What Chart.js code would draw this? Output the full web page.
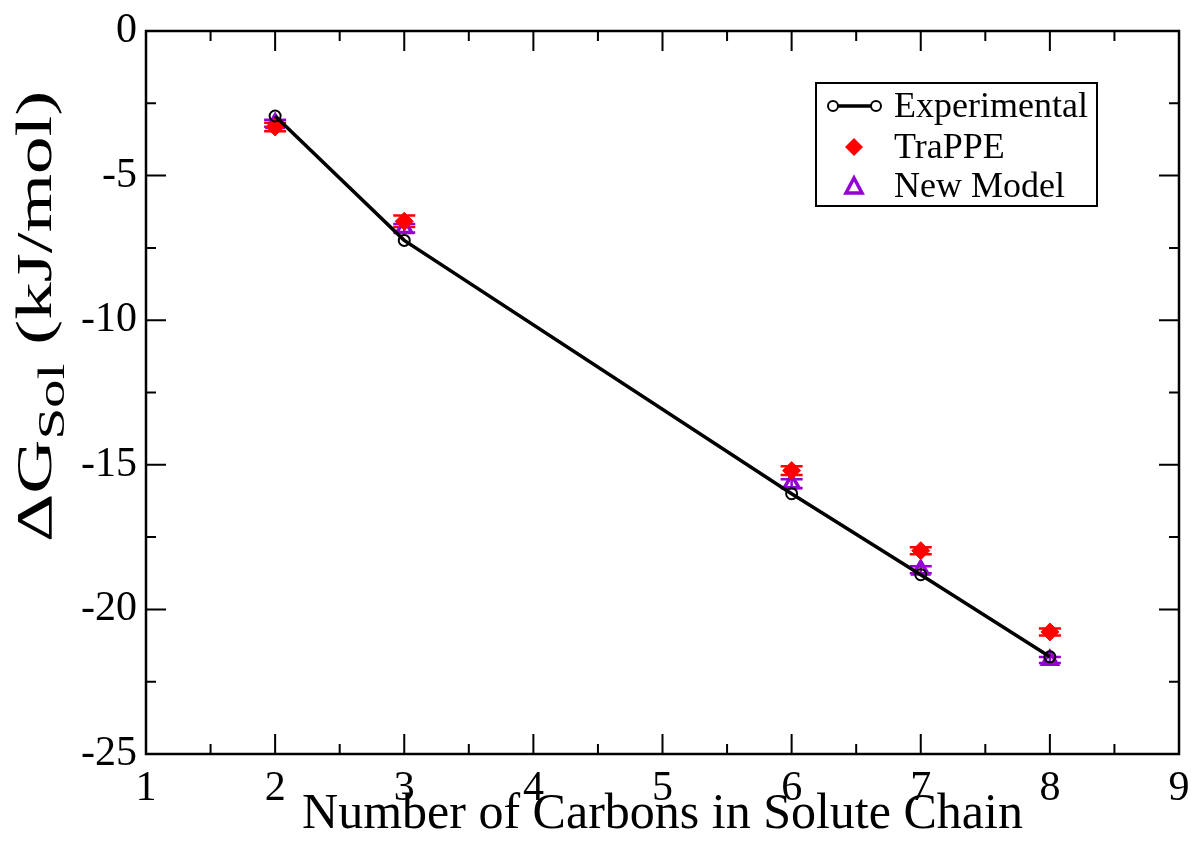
<!DOCTYPE html>
<html><head><meta charset="utf-8">
<script src="https://cdn.jsdelivr.net/npm/chart.js@4.4.1/dist/chart.umd.min.js"></script>
<style>html,body{margin:0;padding:0;background:#fff;}#wrap{width:1192px;height:845px;}</style>
</head><body><div id="wrap"><canvas id="c" width="1192" height="845"></canvas></div>
<script>
const carbons = [2, 3, 6, 7, 8];
const experimental = [-2.94, -7.24, -16.0, -18.8, -21.64];
const trappe = [-3.32, -6.58, -15.2, -17.97, -20.78];
const trappeErr = [0.15, 0.2, 0.15, 0.12, 0.12];
const newModel = [-3.19, -6.82, -15.65, -18.63, -21.75];
const newModelErr = [0.12, 0.15, 0.15, 0.12, 0.1];
const xTicks = [1, 2, 3, 4, 5, 6, 7, 8, 9];
const yTicks = [0, -5, -10, -15, -20, -25];
const seriesNames = ['Experimental', 'TraPPE', 'New Model'];

const FONT = '"Liberation Serif", "DejaVu Serif", serif';
const PURPLE = '#9400d3';

const framePlugin = {
  id: 'frame',
  beforeDatasetsDraw(chart) {
    const ctx = chart.ctx;
    const xs = chart.scales.x, ys = chart.scales.y;
    const drawErr = (vals, errs, color) => {
      ctx.save(); ctx.strokeStyle = color; ctx.lineWidth = 2.5;
      vals.forEach((v, i) => {
        const px = xs.getPixelForValue(carbons[i]);
        const t = ys.getPixelForValue(v + errs[i]), b = ys.getPixelForValue(v - errs[i]);
        ctx.beginPath();
        ctx.moveTo(px, t); ctx.lineTo(px, b);
        ctx.moveTo(px - 11, t); ctx.lineTo(px + 11, t);
        ctx.moveTo(px - 11, b); ctx.lineTo(px + 11, b);
        ctx.stroke();
      });
      ctx.restore();
    };
    drawErr(trappe, trappeErr, '#ff0000');
    drawErr(newModel, newModelErr, PURPLE);
  },
  afterDatasetsDraw(chart) {
    const ctx = chart.ctx, ca = chart.chartArea;
    const xs = chart.scales.x, ys = chart.scales.y;
    ctx.save();
    ctx.strokeStyle = '#000'; ctx.lineWidth = 2.5;
    ctx.strokeRect(ca.left, ca.top, ca.right - ca.left, ca.bottom - ca.top);
    ctx.lineWidth = 2;
    ctx.beginPath();
    for (let i = 0; i < xTicks.length; i++) {
      const v = xTicks[i];
      const p = xs.getPixelForValue(v);
      if (i > 0 && i < xTicks.length - 1) {
        ctx.moveTo(p, ca.bottom); ctx.lineTo(p, ca.bottom - 20);
        ctx.moveTo(p, ca.top); ctx.lineTo(p, ca.top + 20);
      }
      if (i < xTicks.length - 1) {
        const m = xs.getPixelForValue((v + xTicks[i + 1]) / 2);
        ctx.moveTo(m, ca.bottom); ctx.lineTo(m, ca.bottom - 10);
        ctx.moveTo(m, ca.top); ctx.lineTo(m, ca.top + 10);
      }
    }
    for (let i = 0; i < yTicks.length; i++) {
      const v = yTicks[i];
      const p = ys.getPixelForValue(v);
      if (i > 0 && i < yTicks.length - 1) {
        ctx.moveTo(ca.left, p); ctx.lineTo(ca.left + 20, p);
        ctx.moveTo(ca.right, p); ctx.lineTo(ca.right - 20, p);
      }
      if (i < yTicks.length - 1) {
        const m = ys.getPixelForValue((v + yTicks[i + 1]) / 2);
        ctx.moveTo(ca.left, m); ctx.lineTo(ca.left + 10, m);
        ctx.moveTo(ca.right, m); ctx.lineTo(ca.right - 10, m);
      }
    }
    ctx.stroke();

    // legend
    const lx = 816, ly = 83, lw = 281, lh = 123;
    ctx.fillStyle = '#fff'; ctx.fillRect(lx, ly, lw, lh);
    ctx.lineWidth = 2; ctx.strokeStyle = '#000'; ctx.strokeRect(lx, ly, lw, lh);
    ctx.font = '36px ' + FONT; ctx.fillStyle = '#000'; ctx.textBaseline = 'middle'; ctx.textAlign = 'left';
    const rows = [106, 147, 186];
    ctx.lineWidth = 3.5; ctx.beginPath(); ctx.moveTo(833, rows[0]); ctx.lineTo(876, rows[0]); ctx.stroke();
    [833, 876].forEach(cx => { ctx.beginPath(); ctx.arc(cx, rows[0], 5, 0, Math.PI * 2); ctx.fillStyle = '#fff'; ctx.fill(); ctx.lineWidth = 2; ctx.stroke(); });
    ctx.fillStyle = '#ff0000'; ctx.beginPath();
    ctx.moveTo(854, rows[1] - 9); ctx.lineTo(863, rows[1]); ctx.lineTo(854, rows[1] + 9); ctx.lineTo(845, rows[1]); ctx.closePath(); ctx.fill();
    ctx.strokeStyle = PURPLE; ctx.lineWidth = 3.5; ctx.beginPath();
    ctx.moveTo(854, rows[2] - 8); ctx.lineTo(862, rows[2] + 7); ctx.lineTo(846, rows[2] + 7); ctx.closePath(); ctx.stroke();
    ctx.fillStyle = '#000';
    seriesNames.forEach((n, i) => ctx.fillText(n, 894, rows[i] + 2));

    // y title with subscript
    ctx.save();
    ctx.translate(51, 542);
    ctx.rotate(-Math.PI / 2);
    ctx.scale(1.5, 1);
    ctx.textBaseline = 'alphabetic'; ctx.textAlign = 'left';
    ctx.fillStyle = '#000';
    let x = 0;
    ctx.font = '50px ' + FONT;
    ctx.fillText('ΔG', x, 0); x += ctx.measureText('ΔG').width;
    ctx.font = '38px ' + FONT;
    ctx.fillText('Sol', x, 13); x += ctx.measureText('Sol').width;
    ctx.font = '50px ' + FONT;
    ctx.fillText(' (kJ/mol)', x, 0);
    ctx.restore();
    ctx.restore();
  }
};

new Chart(document.getElementById('c'), {
  type: 'scatter',
  data: {
    datasets: [
      {
        label: seriesNames[0],
        data: carbons.map((c, i) => ({ x: c, y: experimental[i] })),
        showLine: true, borderColor: '#000', borderWidth: 3.5,
        pointStyle: 'circle', pointRadius: 5.5, pointBorderWidth: 2,
        pointBackgroundColor: 'rgba(255,255,255,0)', pointBorderColor: '#000'
      },
      {
        label: seriesNames[1],
        data: carbons.map((c, i) => ({ x: c, y: trappe[i] })),
        pointStyle: 'rectRot', pointRadius: 9,
        backgroundColor: '#ff0000', borderColor: '#ff0000', pointBorderWidth: 1
      },
      {
        label: seriesNames[2],
        data: carbons.map((c, i) => ({ x: c, y: newModel[i] })),
        pointStyle: 'triangle', pointRadius: 8.5,
        backgroundColor: 'rgba(255,255,255,0)', borderColor: PURPLE, pointBorderWidth: 3.5
      }
    ]
  },
  options: {
    responsive: false, animation: false,
    layout: { padding: { left: 0, top: 31, right: 13, bottom: 0 } },
    plugins: { legend: { display: false }, tooltip: { enabled: false } },
    scales: {
      x: {
        type: 'linear', min: 1, max: 9,
        grid: { display: false, drawTicks: false }, border: { display: false },
        afterBuildTicks: s => { s.ticks = xTicks.map(v => ({ value: v })); },
        ticks: { color: '#000', padding: 10, font: { family: FONT, size: 42 }, maxRotation: 0, autoSkip: false },
        title: { display: true, text: 'Number of Carbons in Solute Chain', color: '#000', font: { family: FONT, size: 50 }, padding: { top: -6, bottom: 0 } },
        afterFit: s => { s.height = 91; s.paddingRight = 0; s.paddingLeft = 0; }
      },
      y: {
        type: 'linear', min: -25, max: 0,
        grid: { display: false, drawTicks: false }, border: { display: false },
        afterBuildTicks: s => { s.ticks = yTicks.map(v => ({ value: v })); },
        ticks: { color: '#000', padding: 9, font: { family: FONT, size: 42 } },
        afterFit: s => { s.width = 146; s.paddingTop = 0; s.paddingBottom = 0; }
      }
    }
  },
  plugins: [framePlugin]
});
</script>
</body></html>
